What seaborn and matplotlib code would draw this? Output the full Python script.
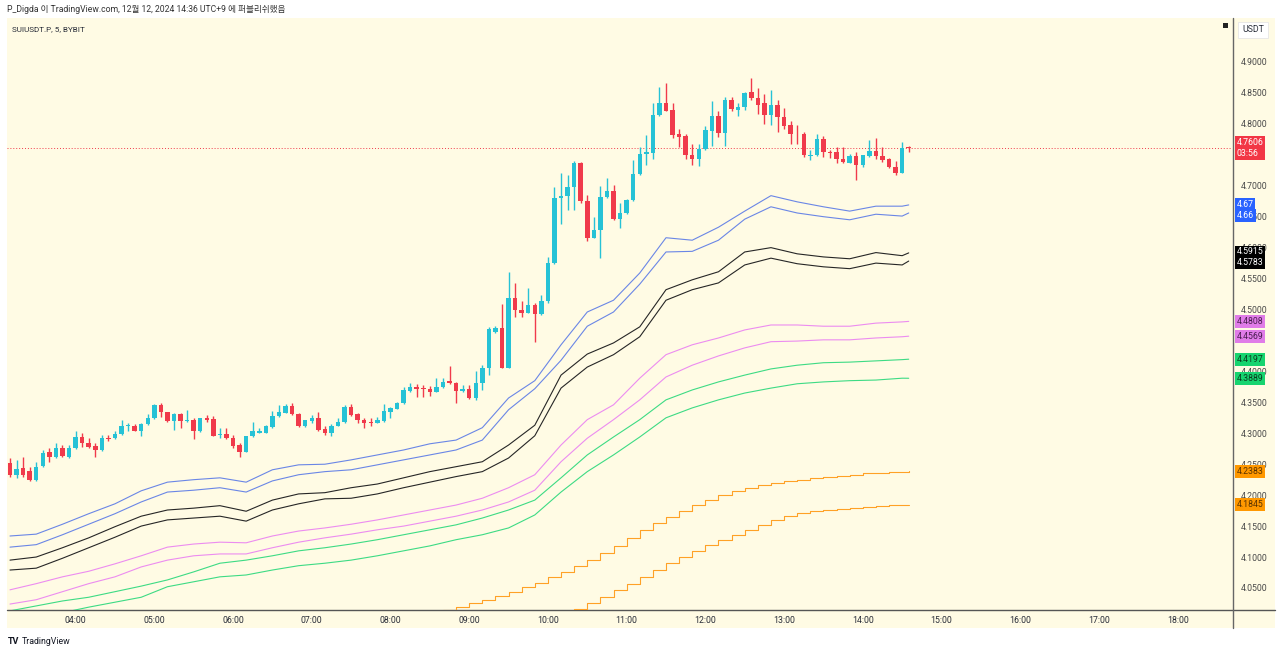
import numpy as np
import pandas as pd
import matplotlib
matplotlib.use("Agg")
import matplotlib.pyplot as plt
import matplotlib.transforms as mtransforms
from matplotlib.patches import Rectangle
from matplotlib.lines import Line2D
import seaborn as sns

# SUIUSDT.P 5m candles, first bar 03:10, last bar 14:35
start_min = 3 * 60 + 10
bar_step = 5

opens = [4.252, 4.233, 4.244, 4.239, 4.225, 4.247, 4.269, 4.261, 4.276, 4.262,
         4.276, 4.294, 4.285, 4.280, 4.273, 4.293, 4.292, 4.299, 4.311, 4.312,
         4.304, 4.315, 4.324, 4.346, 4.334, 4.320, 4.331, 4.320, 4.322, 4.303,
         4.324, 4.323, 4.297, 4.299, 4.293, 4.281, 4.270, 4.295, 4.301, 4.301,
         4.310, 4.328, 4.333, 4.344, 4.331, 4.311, 4.320, 4.324, 4.307, 4.300,
         4.312, 4.318, 4.342, 4.331, 4.322, 4.319, 4.317, 4.320, 4.335, 4.340,
         4.349, 4.368, 4.374, 4.373, 4.372, 4.367, 4.374, 4.385, 4.381, 4.368,
         4.371, 4.357, 4.382, 4.405, 4.464, 4.470, 4.405, 4.518, 4.500, 4.495,
         4.507, 4.493, 4.513, 4.575, 4.681, 4.684, 4.698, 4.736, 4.676, 4.616,
         4.629, 4.682, 4.692, 4.647, 4.656, 4.677, 4.719, 4.751, 4.753, 4.814,
         4.833, 4.822, 4.784, 4.781, 4.750, 4.743, 4.759, 4.789, 4.812, 4.785,
         4.839, 4.822, 4.827, 4.852, 4.842, 4.833, 4.814, 4.830, 4.811, 4.798,
         4.784, 4.784, 4.748, 4.749, 4.776, 4.755, 4.755, 4.743, 4.737, 4.748,
         4.734, 4.748, 4.756, 4.748, 4.743, 4.730, 4.721, 4.762]
highs = [4.260, 4.257, 4.261, 4.246, 4.254, 4.273, 4.276, 4.284, 4.281, 4.281,
         4.303, 4.300, 4.292, 4.284, 4.297, 4.298, 4.303, 4.322, 4.316, 4.315,
         4.316, 4.331, 4.347, 4.349, 4.335, 4.332, 4.332, 4.338, 4.324, 4.325,
         4.330, 4.328, 4.308, 4.308, 4.297, 4.284, 4.296, 4.319, 4.309, 4.313,
         4.336, 4.346, 4.347, 4.349, 4.332, 4.322, 4.330, 4.335, 4.311, 4.315,
         4.324, 4.345, 4.347, 4.332, 4.325, 4.324, 4.327, 4.347, 4.343, 4.351,
         4.374, 4.381, 4.379, 4.378, 4.377, 4.389, 4.389, 4.408, 4.383, 4.378,
         4.378, 4.400, 4.411, 4.472, 4.474, 4.509, 4.561, 4.543, 4.513, 4.534,
         4.510, 4.523, 4.585, 4.698, 4.720, 4.717, 4.740, 4.738, 4.685, 4.650,
         4.699, 4.712, 4.701, 4.672, 4.678, 4.741, 4.763, 4.782, 4.833, 4.860,
         4.866, 4.833, 4.791, 4.784, 4.768, 4.768, 4.797, 4.837, 4.821, 4.843,
         4.844, 4.833, 4.852, 4.874, 4.858, 4.849, 4.854, 4.838, 4.825, 4.804,
         4.798, 4.787, 4.757, 4.783, 4.781, 4.757, 4.763, 4.763, 4.752, 4.755,
         4.750, 4.774, 4.777, 4.763, 4.745, 4.740, 4.770, 4.765]
lows = [4.230, 4.228, 4.230, 4.223, 4.223, 4.246, 4.254, 4.260, 4.262, 4.260,
        4.275, 4.278, 4.276, 4.262, 4.271, 4.288, 4.291, 4.297, 4.303, 4.303,
        4.296, 4.313, 4.323, 4.327, 4.319, 4.305, 4.308, 4.319, 4.290, 4.302,
        4.318, 4.295, 4.292, 4.291, 4.276, 4.262, 4.269, 4.294, 4.300, 4.300,
        4.308, 4.327, 4.332, 4.330, 4.310, 4.310, 4.317, 4.304, 4.298, 4.295,
        4.311, 4.317, 4.328, 4.316, 4.309, 4.312, 4.316, 4.319, 4.324, 4.339,
        4.347, 4.367, 4.359, 4.358, 4.361, 4.366, 4.373, 4.379, 4.349, 4.367,
        4.355, 4.354, 4.370, 4.394, 4.462, 4.405, 4.405, 4.488, 4.488, 4.494,
        4.448, 4.491, 4.511, 4.574, 4.639, 4.661, 4.661, 4.672, 4.610, 4.615,
        4.583, 4.681, 4.645, 4.631, 4.655, 4.676, 4.717, 4.734, 4.743, 4.813,
        4.820, 4.777, 4.763, 4.743, 4.734, 4.732, 4.758, 4.764, 4.779, 4.764,
        4.821, 4.813, 4.822, 4.839, 4.816, 4.800, 4.798, 4.787, 4.792, 4.768,
        4.768, 4.746, 4.741, 4.748, 4.746, 4.745, 4.736, 4.737, 4.736, 4.710,
        4.730, 4.746, 4.743, 4.738, 4.729, 4.718, 4.720, 4.754]
closes = [4.233, 4.243, 4.233, 4.225, 4.246, 4.268, 4.261, 4.276, 4.264, 4.277,
          4.294, 4.284, 4.278, 4.273, 4.293, 4.291, 4.299, 4.312, 4.313, 4.304,
          4.315, 4.325, 4.346, 4.334, 4.320, 4.331, 4.320, 4.321, 4.303, 4.324,
          4.322, 4.296, 4.299, 4.292, 4.280, 4.270, 4.295, 4.304, 4.304, 4.311,
          4.328, 4.335, 4.344, 4.331, 4.311, 4.321, 4.324, 4.305, 4.300, 4.312,
          4.318, 4.342, 4.330, 4.322, 4.317, 4.317, 4.322, 4.336, 4.341, 4.349,
          4.370, 4.374, 4.372, 4.371, 4.367, 4.374, 4.383, 4.381, 4.368, 4.371,
          4.357, 4.382, 4.405, 4.468, 4.470, 4.405, 4.518, 4.499, 4.495, 4.507,
          4.493, 4.513, 4.575, 4.681, 4.684, 4.698, 4.736, 4.676, 4.615, 4.629,
          4.682, 4.692, 4.647, 4.656, 4.677, 4.719, 4.752, 4.755, 4.814, 4.833,
          4.821, 4.782, 4.779, 4.750, 4.743, 4.759, 4.790, 4.812, 4.785, 4.839,
          4.824, 4.828, 4.850, 4.842, 4.831, 4.815, 4.831, 4.811, 4.797, 4.784,
          4.783, 4.749, 4.749, 4.776, 4.755, 4.753, 4.743, 4.738, 4.748, 4.734,
          4.749, 4.756, 4.748, 4.741, 4.730, 4.721, 4.761, 4.7606]

# band lines, sampled every 4th bar (bar index)
band_idx = [0, 4, 8, 12, 16, 20, 24, 28, 32, 36, 40, 44, 48, 52, 56, 60, 64, 68,
            72, 76, 80, 84, 88, 92, 96, 100, 104, 108, 112, 116, 120, 124, 128,
            132, 136, 137]
blue_up = [4.134, 4.137, 4.153, 4.170, 4.186, 4.207, 4.221, 4.225, 4.228, 4.221,
           4.241, 4.249, 4.250, 4.257, 4.265, 4.273, 4.283, 4.289, 4.309, 4.357,
           4.385, 4.443, 4.496, 4.515, 4.559, 4.616, 4.612, 4.633, 4.659, 4.684,
           4.674, 4.666, 4.659, 4.667, 4.667, 4.669]
blue_lo = [4.116, 4.120, 4.136, 4.153, 4.170, 4.189, 4.205, 4.208, 4.212, 4.205,
           4.223, 4.233, 4.238, 4.241, 4.249, 4.257, 4.265, 4.273, 4.289, 4.338,
           4.372, 4.418, 4.473, 4.496, 4.541, 4.593, 4.594, 4.612, 4.646, 4.666,
           4.656, 4.650, 4.645, 4.654, 4.651, 4.656]
black_up = [4.095, 4.100, 4.115, 4.131, 4.149, 4.166, 4.176, 4.179, 4.183, 4.174,
            4.192, 4.202, 4.204, 4.212, 4.218, 4.228, 4.238, 4.246, 4.254, 4.281,
            4.313, 4.394, 4.428, 4.446, 4.472, 4.532, 4.548, 4.561, 4.593, 4.600,
            4.590, 4.585, 4.582, 4.592, 4.587, 4.5915]
black_lo = [4.079, 4.082, 4.098, 4.115, 4.132, 4.150, 4.160, 4.163, 4.166, 4.158,
            4.176, 4.186, 4.194, 4.195, 4.202, 4.212, 4.221, 4.230, 4.238, 4.260,
            4.296, 4.373, 4.407, 4.427, 4.456, 4.515, 4.532, 4.543, 4.572, 4.583,
            4.574, 4.569, 4.566, 4.575, 4.572, 4.5783]
violet_up = [4.047, 4.057, 4.068, 4.077, 4.089, 4.102, 4.116, 4.121, 4.124, 4.123,
             4.134, 4.142, 4.147, 4.153, 4.160, 4.168, 4.176, 4.184, 4.195, 4.212,
             4.233, 4.281, 4.322, 4.346, 4.389, 4.427, 4.443, 4.454, 4.467, 4.475,
             4.475, 4.473, 4.473, 4.478, 4.480, 4.4808]
violet_lo = [4.024, 4.031, 4.044, 4.057, 4.068, 4.084, 4.095, 4.102, 4.105, 4.105,
             4.115, 4.124, 4.131, 4.137, 4.144, 4.150, 4.158, 4.166, 4.176, 4.189,
             4.208, 4.254, 4.292, 4.322, 4.354, 4.391, 4.410, 4.425, 4.438, 4.448,
             4.449, 4.451, 4.451, 4.454, 4.456, 4.4569]
green_up = [4.013, 4.021, 4.029, 4.035, 4.044, 4.053, 4.063, 4.076, 4.090, 4.095,
            4.102, 4.110, 4.115, 4.121, 4.128, 4.136, 4.144, 4.152, 4.163, 4.176,
            4.192, 4.228, 4.265, 4.294, 4.322, 4.354, 4.370, 4.383, 4.394, 4.404,
            4.410, 4.414, 4.415, 4.417, 4.419, 4.4197]
green_lo = [3.990, 3.998, 4.010, 4.019, 4.027, 4.035, 4.052, 4.060, 4.068, 4.071,
            4.079, 4.086, 4.090, 4.095, 4.102, 4.110, 4.118, 4.128, 4.136, 4.147,
            4.168, 4.205, 4.238, 4.265, 4.294, 4.325, 4.341, 4.354, 4.365, 4.373,
            4.380, 4.383, 4.385, 4.386, 4.389, 4.3889]

# stepped orange pair (rises into view late in the session), every 2nd bar
orange_up_idx = [62, 64, 66, 68, 70, 72, 74, 76, 78, 80, 82, 84, 86, 88, 90, 92,
                 94, 96, 98, 100, 102, 104, 106, 108, 110, 112, 114, 116, 118, 120,
                 122, 124, 126, 128, 130, 132, 134, 136, 137]
orange_up = [4.006, 4.011, 4.015, 4.019, 4.025, 4.031, 4.037, 4.044, 4.051, 4.058,
             4.067, 4.076, 4.085, 4.095, 4.106, 4.118, 4.131, 4.144, 4.155, 4.165,
             4.175, 4.184, 4.192, 4.200, 4.206, 4.212, 4.216, 4.220, 4.223, 4.225,
             4.227, 4.229, 4.231, 4.233, 4.235, 4.236, 4.237, 4.238, 4.2383]
orange_lo_idx = [84, 86, 88, 90, 92, 94, 96, 98, 100, 102, 104, 106, 108, 110, 112,
                 114, 116, 118, 120, 122, 124, 126, 128, 130, 132, 134, 136, 137]
orange_lo = [4.006, 4.016, 4.026, 4.036, 4.047, 4.057, 4.068, 4.079, 4.090, 4.100,
             4.110, 4.119, 4.128, 4.136, 4.144, 4.152, 4.160, 4.166, 4.171, 4.174,
             4.176, 4.178, 4.179, 4.181, 4.183, 4.184, 4.184, 4.1845]

last_price = 4.7606
# 4.75 and 4.45 sit fully under the value tags, so they are not shown
price_ticks = [4.05, 4.10, 4.15, 4.20, 4.25, 4.30, 4.35, 4.40, 4.50, 4.55,
               4.60, 4.65, 4.70, 4.80, 4.85, 4.90]
hour_ticks = [4, 5, 6, 7, 8, 9, 10, 11, 12, 13, 14, 15, 16, 17, 18]

UP = "#26c2d6"
DOWN = "#f03a4b"
BG = "#fffbe4"

sns.set_theme(style="white")
plt.rcParams["font.family"] = ["Roboto", "Noto Sans CJK KR", "DejaVu Sans"]

W, H = 1280, 654
fig = plt.figure(figsize=(W / 100, H / 100), dpi=100, facecolor="white")

def fx(px):
    return px / W

def fy(py):
    return 1 - py / H

# chart panel background (plot + both axis strips), kept under the axes
fig.patches.append(Rectangle((fx(7), fy(628)), fx(1268), (628 - 18) / H,
                             transform=fig.transFigure, facecolor=BG,
                             edgecolor="none", zorder=-5))

ax = fig.add_axes([fx(7), fy(610), fx(1225), (610 - 18) / H])
ax.set_facecolor("none")
ax.set_zorder(2)

x_min = np.array([start_min + bar_step * i for i in range(len(opens))], dtype=float)
o = np.array(opens)
c = np.array(closes)
up = c >= o
colors = np.where(up, UP, DOWN)

ax.vlines(x_min, lows, highs, colors=colors, linewidth=1.0, zorder=3)
body_lo = np.minimum(o, c)
body_h = np.maximum(np.abs(c - o), 0.0012)
ax.bar(x_min, body_h, bottom=body_lo, width=3.4, color=colors, linewidth=0, zorder=4)

def band_frame(idx, vals):
    return pd.DataFrame({"t": [start_min + bar_step * i for i in idx], "price": vals})

bands = [(blue_up, "#6a86e6"), (blue_lo, "#6a86e6"),
         (black_up, "#262626"), (black_lo, "#262626"),
         (violet_up, "#ec8cf0"), (violet_lo, "#ec8cf0"),
         (green_up, "#3ddb84"), (green_lo, "#3ddb84")]
for vals, col in bands:
    sns.lineplot(data=band_frame(band_idx, vals), x="t", y="price", ax=ax,
                 color=col, linewidth=0.8, zorder=2)

sns.lineplot(data=band_frame(orange_up_idx, orange_up), x="t", y="price", ax=ax,
             color="#ffa126", linewidth=0.8, drawstyle="steps-post", zorder=2)
sns.lineplot(data=band_frame(orange_lo_idx, orange_lo), x="t", y="price", ax=ax,
             color="#ffa126", linewidth=0.8, drawstyle="steps-post", zorder=2)

# last price dotted line
ax.axhline(last_price, color=DOWN, linewidth=0.7, linestyle=(0, (1, 2)), zorder=1)

x_left = start_min - 0.457 * bar_step
x_right = start_min + (1232 - 10) / 6.56 * bar_step
ax.set_xlim(x_left, x_right)
ax.set_ylim(4.0144, 4.9711)
ax.set_xlabel("")
ax.set_ylabel("")

ax.set_xticks([h * 60 for h in hour_ticks])
ax.set_xticklabels([f"{h:02d}:00" for h in hour_ticks])
ax.yaxis.tick_right()
ax.set_yticks(price_ticks)
ax.set_yticklabels([f"{p:.4f}" for p in price_ticks])
ax.tick_params(axis="x", length=0, pad=4, labelsize=6.3, labelcolor="#2a2e39")
ax.tick_params(axis="y", length=0, pad=6, labelsize=6.3, labelcolor="#4a4a4a")
for s in ax.spines.values():
    s.set_visible(False)

# axis separators
fig.add_artist(Line2D([fx(7), fx(1275)], [fy(610), fy(610)], color="#555555",
                      linewidth=1.0, transform=fig.transFigure))
fig.add_artist(Line2D([fx(1232.5), fx(1232.5)], [fy(18), fy(628)], color="#666666",
                      linewidth=1.0, transform=fig.transFigure))

# price labels on the right scale
blend = mtransforms.blended_transform_factory(ax.transAxes, ax.transData)
x_lab = 1.0 + 4.5 / 1225

def price_box(y, text, fc, tc):
    ax.text(x_lab, y, text, transform=blend, ha="left", va="center", fontsize=6.3,
            color=tc, clip_on=False, zorder=20, linespacing=1.25,
            bbox=dict(boxstyle="square,pad=0.22", facecolor=fc, edgecolor="none"))

price_box(last_price, "4.7606\n03:56", "#f23645", "white")
price_box(blue_up[-1] + 0.001, "4.67", "#2962ff", "white")
price_box(blue_lo[-1] - 0.004, "4.66", "#2962ff", "white")
price_box(black_up[-1] + 0.0015, "4.5915", "#000000", "white")
price_box(black_lo[-1] - 0.002, "4.5783", "#000000", "white")
price_box(violet_up[-1], "4.4808", "#e07ce8", "#4a1e50")
price_box(violet_lo[-1], "4.4569", "#e07ce8", "#4a1e50")
price_box(green_up[-1], "4.4197", "#16d46f", "#0b3d20")
price_box(green_lo[-1], "4.3889", "#16d46f", "#0b3d20")
price_box(orange_up[-1], "4.2383", "#ff9800", "#5a3300")
price_box(orange_lo[-1], "4.1845", "#ff9800", "#5a3300")

# header, symbol, currency box, footer
fig.text(fx(7), fy(9), "P_Digda 이 TradingView.com, 12월 12, 2024 14:36 UTC+9 에 퍼블리쉬했음",
         fontsize=6.2, color="#333333", va="center", ha="left")
fig.text(fx(12), fy(29), "SUIUSDT.P, 5, BYBIT", fontsize=5.9, color="#2a2e39",
         va="center", ha="left")
fig.text(fx(1253), fy(30), "USDT", fontsize=6.3, color="#2a2e39", va="center",
         ha="center", bbox=dict(boxstyle="square,pad=0.45", facecolor="white",
                                edgecolor="#e6e6e6", linewidth=0.6))
fig.patches.append(Rectangle((fx(1223), fy(28)), fx(5), 5 / H, transform=fig.transFigure,
                             facecolor="#222222", edgecolor="none"))
fig.text(fx(8), fy(642), "TV", fontsize=6.5, fontweight="bold", color="#131722",
         va="center", ha="left")
fig.text(fx(22), fy(642), "TradingView", fontsize=6.3, color="#131722",
         va="center", ha="left")

fig.savefig("out.png", dpi=100, facecolor="white")
